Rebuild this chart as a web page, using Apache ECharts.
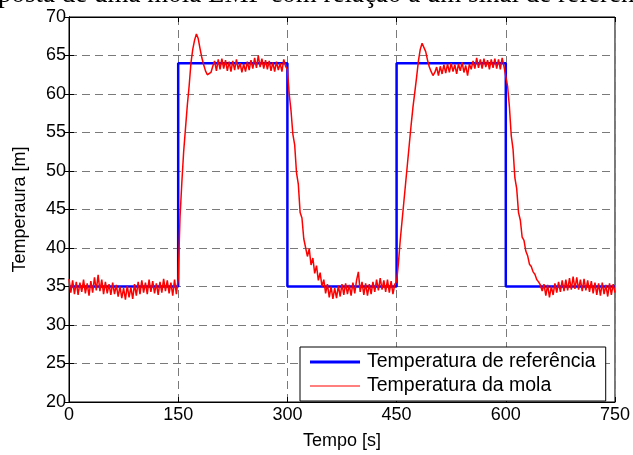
<!DOCTYPE html>
<html>
<head>
<meta charset="utf-8">
<script src="https://cdn.jsdelivr.net/npm/echarts@6/dist/echarts.min.js"></script>
<style>
  html, body { margin: 0; padding: 0; background: #fff; }
  #chart { width: 633px; height: 455px; }
</style>
</head>
<body>
<div id="chart"></div>
<script>
// degrau de referência
const refTime = [0, 150, 150, 300, 300, 450, 450, 600, 600, 750];
const refTemp = [35, 35, 64, 64, 35, 35, 64, 64, 35, 35];

// temperatura da mola, uma amostra a cada 2.5 s (0 .. 750 s)
const sampleStep = 2.5;
const springTemp = [
  // 0 .. 147.5
  36.0, 34.2, 35.8, 34.0, 35.6, 33.9, 35.5, 34.3, 35.9, 34.1,
  35.4, 33.8, 35.7, 34.2, 36.2, 34.5, 36.5, 34.4, 35.9, 34.0,
  35.6, 34.1, 35.3, 33.9, 35.5, 34.0, 35.2, 33.7, 35.0, 33.5,
  34.8, 33.3, 35.1, 33.6, 34.9, 33.4, 35.3, 33.8, 35.6, 34.0,
  35.8, 34.2, 35.5, 34.0, 35.9, 34.3, 35.7, 34.1, 35.4, 33.9,
  35.6, 34.2, 36.0, 34.4, 35.8, 34.1, 35.5, 33.8, 35.9, 34.0,
  // 150 .. 197.5 subida
  36.0, 44.0, 48.5, 52.5, 55.5, 58.5, 61.0, 64.0, 65.8, 67.0,
  67.8, 67.2, 65.9, 64.7, 63.8, 63.0, 62.5, 62.3, 62.8, 63.6,
  // 200 .. 297.5
  64.3, 63.0, 64.5, 63.2, 64.6, 63.3, 64.4, 63.0, 64.2, 62.9,
  64.3, 63.1, 64.5, 63.2, 64.0, 62.8, 63.9, 62.9, 64.2, 63.1,
  64.4, 63.3, 64.7, 63.4, 65.0, 63.5, 64.6, 63.3, 64.4, 63.2,
  64.3, 63.0, 64.1, 62.9, 64.2, 63.1, 64.0, 62.9, 64.5, 63.6,
  // 300 .. 355 descida
  63.2, 60.0, 57.8, 54.8, 53.4, 49.8, 48.3, 44.6, 43.9, 41.2,
  41.3, 38.9, 39.9, 37.8, 38.7, 36.7, 37.7, 35.8, 36.8, 35.0,
  35.9, 34.1, 35.3,
  // 357.5 .. 447.5
  33.6, 35.0, 33.4, 34.8, 33.5, 35.1, 33.7, 35.3, 33.9, 35.4,
  34.0, 35.2, 33.8, 35.5, 34.1, 35.8, 36.9, 34.3, 35.6, 33.9,
  35.4, 33.8, 35.3, 34.0, 35.6, 34.3, 35.9, 34.5, 36.1, 34.6,
  35.8, 34.3, 35.9, 34.2, 35.7, 34.0, 35.3,
  // 450 .. 502.5 subida
  35.6, 38.0, 41.0, 43.5, 46.0, 48.5, 51.0, 53.5, 56.0, 58.3,
  60.2, 62.2, 64.3, 65.8, 66.6, 66.5, 65.5, 64.4, 63.5, 62.9,
  62.4, 62.8,
  // 505 .. 597.5
  63.5, 62.4, 63.6, 62.6, 63.8, 62.7, 63.9, 62.8, 64.0, 62.9,
  63.8, 62.6, 63.9, 63.0, 64.1, 62.8, 63.7, 62.4, 63.9, 63.2,
  64.3, 63.3, 64.7, 63.4, 64.5, 63.3, 64.6, 63.5, 64.4, 63.2,
  64.5, 63.4, 64.6, 63.3, 64.5, 63.2, 64.7, 63.6,
  // 600 .. 650 descida
  63.5, 61.0, 58.3, 54.6, 52.8, 49.1, 47.7, 44.6, 43.6, 41.4,
  41.0, 39.6, 39.0, 37.9, 37.6, 36.9, 36.6, 35.9, 35.6, 35.2,
  34.4,
  // 652.5 .. 750
  35.3, 33.8, 35.2, 33.6, 35.0, 33.9, 35.4, 34.2, 35.6, 34.3,
  35.8, 34.4, 35.9, 34.5, 36.1, 34.6, 36.3, 34.7, 36.2, 34.6,
  35.9, 34.4, 36.0, 34.5, 35.8, 34.3, 35.7, 34.1, 35.5, 33.9,
  35.4, 33.8, 35.5, 34.0, 35.2, 33.7, 35.4, 33.9, 35.3, 34.2
];

const seriesNames = ['Temperatura de referência', 'Temperatura da mola'];
const topText = 'posta de uma mola LMF com relação a um sinal de referência';

const font = 'Arial, "Liberation Sans", sans-serif';
const refData = refTime.map((t, i) => [t, refTemp[i]]);
const springData = springTemp.map((v, i) => [i * sampleStep, v]);

const gridLine = { show: true, lineStyle: { color: '#7a7a7a', type: [8, 5], width: 1 } };
const blackLine = { show: true, lineStyle: { color: '#000', width: 1 } };
const innerTick = { show: true, inside: true, length: 5, lineStyle: { color: '#000' } };

const myChart = echarts.init(document.getElementById('chart'), null, { renderer: 'canvas' });
const chartOption = {
  backgroundColor: '#fff',
  animation: false,
  graphic: [
    {
      type: 'text',
      left: -2,
      top: -19,
      style: { text: topText, font: '27px "Liberation Serif", "Times New Roman", serif', fill: '#000' }
    }
  ],
  grid: { left: 69, right: 18, top: 17, bottom: 48, show: true, borderColor: '#000', borderWidth: 1 },
  legend: {
    orient: 'vertical',
    left: 300,
    top: 347,
    padding: [5, 10, 5, 10],
    itemGap: 4,
    itemWidth: 50,
    itemHeight: 14,
    backgroundColor: '#fff',
    borderColor: '#000',
    borderWidth: 1,
    borderRadius: 0,
    textStyle: { fontFamily: font, fontSize: 19.5, color: '#000', padding: [0, 0, 0, 2] },
    data: [
      { name: seriesNames[0], icon: 'path://M0,0 L50,0 L50,3 L0,3 Z', itemStyle: { color: '#0000ff' } },
      { name: seriesNames[1], icon: 'path://M0,0 L50,0 L50,1 L0,1 Z', itemStyle: { color: '#ff0000' } }
    ]
  },
  xAxis: [
    {
      type: 'value',
      min: 0,
      max: 750,
      interval: 150,
      name: 'Tempo [s]',
      nameLocation: 'middle',
      nameGap: 30,
      nameTextStyle: { fontFamily: font, fontSize: 18, color: '#000' },
      axisLine: blackLine,
      axisTick: innerTick,
      axisLabel: { fontFamily: font, fontSize: 18, color: '#000', margin: 4 },
      splitLine: gridLine
    },
    {
      type: 'value',
      position: 'top',
      min: 0,
      max: 750,
      interval: 150,
      axisLine: blackLine,
      axisTick: innerTick,
      axisLabel: { show: false },
      splitLine: { show: false }
    }
  ],
  yAxis: [
    {
      type: 'value',
      min: 20,
      max: 70,
      interval: 5,
      name: 'Temperaura [m]',
      nameLocation: 'middle',
      nameGap: 40,
      nameTextStyle: { fontFamily: font, fontSize: 18, color: '#000' },
      axisLine: blackLine,
      axisTick: innerTick,
      axisLabel: { fontFamily: font, fontSize: 18, color: '#000', margin: 3 },
      splitLine: gridLine
    },
    {
      type: 'value',
      position: 'right',
      min: 20,
      max: 70,
      interval: 5,
      axisLine: blackLine,
      axisTick: innerTick,
      axisLabel: { show: false },
      splitLine: { show: false }
    }
  ],
  series: [
    {
      name: seriesNames[0],
      type: 'line',
      data: refData,
      symbol: 'none',
      lineStyle: { color: '#0000ff', width: 2.5 },
      itemStyle: { color: '#0000ff' },
      z: 2
    },
    {
      name: seriesNames[1],
      type: 'line',
      data: springData,
      symbol: 'none',
      lineStyle: { color: '#ff0000', width: 1.5 },
      itemStyle: { color: '#ff0000' },
      z: 3
    }
  ]
};
myChart.setOption(chartOption);
</script>
</body>
</html>
